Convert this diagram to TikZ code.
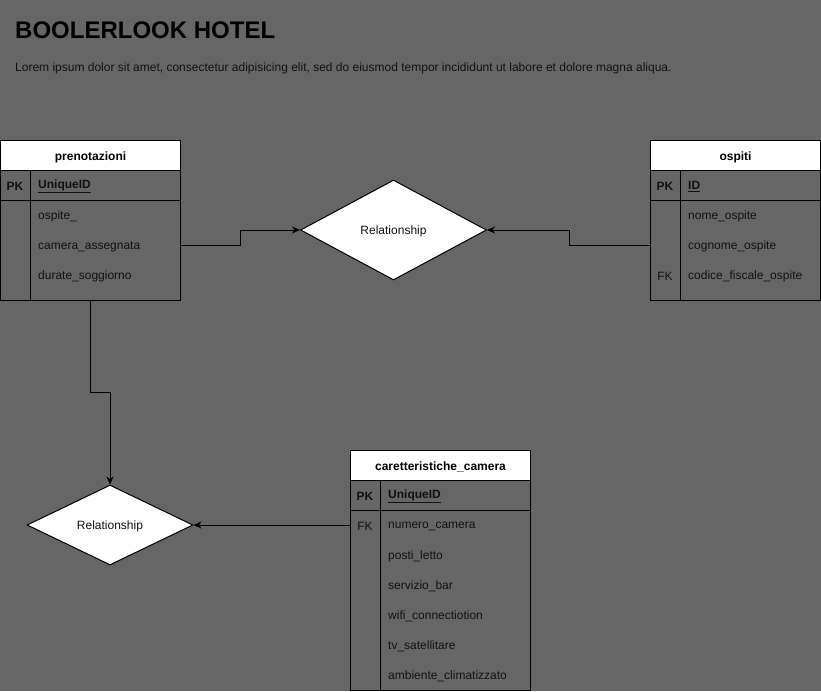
\documentclass[tikz,border=0pt]{standalone}
\usepackage{fontspec}
\setmainfont{Liberation Sans}
\usetikzlibrary{shapes.geometric,arrows.meta}
\definecolor{bggray}{HTML}{666666}
\definecolor{txtc}{HTML}{111111}
\tikzset{
  hdr/.style={draw=black, line width=1pt, fill=white, anchor=north west, inner sep=0pt,
    font=\fontsize{12}{14}\selectfont\bfseries, text=black},
  hdrtxt/.style={anchor=center, inner sep=0pt, yshift=-1.5pt, font=\fontsize{12}{14}\selectfont\bfseries, text=black},
  cell/.style={draw=black, line width=1pt, anchor=north west, inner sep=0pt},
  txt/.style={anchor=west, inner sep=0pt, yshift=-1.5pt, font=\fontsize{12}{14}\selectfont, text=txtc},
  btxt/.style={txt, font=\fontsize{12}{14}\selectfont\bfseries},
  key/.style={anchor=center, inner sep=0pt, yshift=-1.5pt, font=\fontsize{12}{14}\selectfont, text=txtc},
  rel/.style={shape=diamond, draw=black, line width=1pt, fill=white, inner sep=0pt,
    font=\fontsize{12}{14}\selectfont, text=txtc},
  conn/.style={draw=black, line width=1pt, -{Stealth[length=8pt,width=7pt]}},
  sep/.style={draw=black, line width=1pt}
}
\begin{document}
\begin{tikzpicture}[x=1pt,y=-1pt]
\fill[bggray] (0,0) rectangle (821,691);
\useasboundingbox (0,0) rectangle (821,691);

% title
\node[anchor=west, inner sep=0pt, font=\fontsize{24}{28}\selectfont\bfseries, text=black] (title) at (15,30) {BOOLERLOOK HOTEL};
\node[anchor=west, inner sep=0pt, yshift=-1pt, font=\fontsize{12}{14}\selectfont, text=txtc] (lorem) at (15,67) {Lorem ipsum dolor sit amet, consectetur adipisicing elit, sed do eiusmod tempor incididunt ut labore et dolore magna aliqua.};

% prenotazioni
\node[hdr, minimum width=180pt, minimum height=30pt] (pH) at (0,140) {};
\node[hdrtxt] (pHt) at (pH.center) {prenotazioni};
\node[cell, minimum width=180pt, minimum height=30pt] (pPK) at (0,170) {};
\node[cell, minimum width=180pt, minimum height=100pt] (pB) at (0,200) {};
\draw[sep] (30,170) -- (30,300);
\node[btxt, anchor=center] (pk1) at (15,185) {PK};
\node[btxt] (pid) at (38,185) {\underline{UniqueID}};
\node[txt] (p1) at (38,215) {ospite\_};
\node[txt] (p2) at (38,245) {camera\_assegnata};
\node[txt] (p3) at (38,275) {durate\_soggiorno};

% ospiti
\node[hdr, minimum width=170pt, minimum height=30pt] (oH) at (650,140) {};
\node[hdrtxt] (oHt) at (oH.center) {ospiti};
\node[cell, minimum width=170pt, minimum height=30pt] (oPK) at (650,170) {};
\node[cell, minimum width=170pt, minimum height=100pt] (oB) at (650,200) {};
\draw[sep] (680,170) -- (680,300);
\node[btxt, anchor=center] (pk2) at (665,185) {PK};
\node[btxt] (oid) at (688,185) {\underline{ID}};
\node[txt] (o1) at (688,215) {nome\_ospite};
\node[txt] (o2) at (688,245) {cognome\_ospite};
\node[key] (fk1) at (665,275) {FK};
\node[txt] (o3) at (688,275) {codice\_fiscale\_ospite};

% caretteristiche_camera
\node[hdr, minimum width=180pt, minimum height=30pt] (cH) at (350,450) {};
\node[hdrtxt] (cHt) at (cH.center) {caretteristiche\_camera};
\node[cell, minimum width=180pt, minimum height=30pt] (cPK) at (350,480) {};
\node[cell, minimum width=180pt, minimum height=180pt] (cB) at (350,510) {};
\draw[sep] (380,480) -- (380,690);
\node[btxt, anchor=center] (pk3) at (365,495) {PK};
\node[btxt] (cid) at (388,495) {\underline{UniqueID}};
\node[key] (fk2) at (365,525) {FK};
\node[txt] (c1) at (388,525) {numero\_camera};
\node[txt] (c2) at (388,555) {posti\_letto};
\node[txt] (c3) at (388,585) {servizio\_bar};
\node[txt] (c4) at (388,615) {wifi\_connectiotion};
\node[txt] (c5) at (388,645) {tv\_satellitare};
\node[txt] (c6) at (388,675) {ambiente\_climatizzato};

% relationships
\node[rel, minimum width=186pt, minimum height=100pt, aspect=1.86] (r1) at (393.5,230) {};
\node[key] (r1t) at (r1.center) {Relationship};
\node[rel, minimum width=166pt, minimum height=80pt, aspect=2.07] (r2) at (110,525) {};
\node[key] (r2t) at (r2.center) {Relationship};

% connector ports
\coordinate (pc) at (180,245);
\coordinate (oc) at (650,245);
\coordinate (pbc) at (90,300);
\coordinate (cc) at (350,525);

% connectors
\draw[conn] (pc) -- ++(60,0) |- (r1.west);
\draw[conn] (oc) -- ++(-81,0) |- (r1.east);
\draw[conn] (pbc) -- ++(0,92) -| (r2.north);
\draw[conn] (cc) -- (r2.east);
\end{tikzpicture}
\end{document}
